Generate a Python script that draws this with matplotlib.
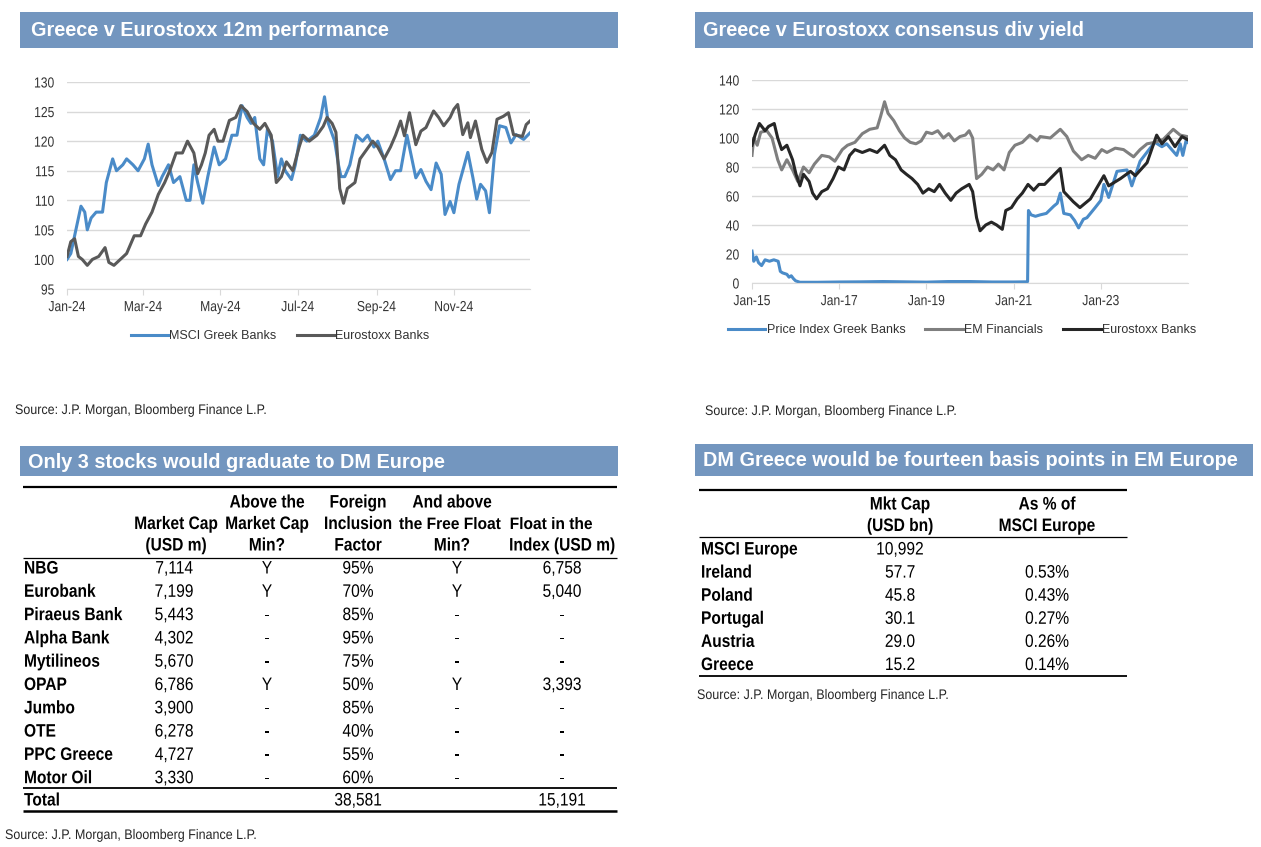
import numpy as np
import pandas as pd
import matplotlib
matplotlib.use('Agg')
import matplotlib.pyplot as plt
import matplotlib.dates as mdates
from matplotlib.patheffects import AbstractPathEffect
from matplotlib.transforms import Affine2D

plt.rcParams['font.family'] = ['Liberation Sans', 'DejaVu Sans']

# ---- chart 1: Greece v Eurostoxx 12m performance (day of 2024, index) ----
greek_day = [0, 3, 6, 8, 11, 14, 16, 19, 23, 28, 31, 36, 39, 44, 47, 52, 56, 61, 64, 67,
             72, 75, 80, 84, 89, 94, 97, 100, 103, 107, 111, 116, 120, 125, 130, 134, 138,
             142, 145, 148, 152, 155, 158, 162, 166, 169, 172, 177, 180, 184, 189, 195, 200,
             203, 206, 211, 214, 216, 219, 223, 228, 233, 237, 242, 245, 250, 255, 259, 263,
             268, 275, 279, 283, 287, 291, 295, 298, 302, 305, 309, 316, 320, 323, 326, 330,
             333, 337, 341, 346, 350, 354, 360, 365]
greek_val = [100, 101, 104, 106, 109, 108, 105, 107, 108, 108, 113, 117, 115, 116, 117, 116,
             115, 117, 119.5, 116, 112.5, 114, 116, 113, 114, 110, 110, 116, 113, 109.5, 114,
             119, 116, 117, 121, 121, 126, 124, 123, 124, 117, 116, 122, 120, 114, 117, 115,
             113.5, 116, 121, 120, 121, 124, 127.5, 123, 120, 116, 114, 114, 116, 121, 120, 121,
             119, 120, 117, 113.5, 115, 115, 121, 113.8, 115.2, 113.2, 111.8, 116.3, 114.4,
             107.6, 109.8, 107.9, 112.7, 118.1, 113.8, 110.2, 112.7, 111.6, 107.9, 117.8, 122.6,
             122.3, 119.7, 121.1, 120.3, 121.4]

euro_day = [0, 3, 6, 9, 12, 16, 20, 25, 30, 33, 37, 42, 47, 53, 58, 62, 67, 72, 77, 81, 86,
            91, 95, 100, 103, 106, 109, 112, 116, 119, 123, 128, 133, 137, 142, 147, 152, 156,
            161, 165, 169, 173, 178, 183, 186, 191, 197, 202, 205, 209, 212, 215, 218, 221, 227,
            231, 236, 241, 245, 250, 255, 259, 263, 266, 270, 275, 279, 283, 289, 293, 297, 302,
            305, 308, 312, 316, 318, 322, 327, 331, 335, 339, 344, 348, 352, 359, 362, 365]
euro_val = [100.5, 103, 103.5, 100.5, 100, 99, 100, 100.5, 102, 99.5, 99, 100, 101, 104, 104,
            106, 108, 111, 113, 115, 118, 118, 120, 118, 114.5, 116, 118, 121, 122, 120, 120,
            123.5, 124, 126, 125, 123, 122, 123, 121, 113, 114, 116.5, 115, 119, 121, 120, 121,
            122.5, 124, 123, 121.5, 112, 109.5, 112, 113, 117, 118.5, 120, 119, 117, 119, 121,
            123.4, 120.9, 124.8, 119.4, 121.7, 122.3, 125.1, 124, 122.6, 124, 125.4, 126.2,
            121.1, 123.1, 120.6, 123.4, 118.6, 116.4, 118.1, 123.7, 124.2, 124.8, 121.1, 120.8,
            122.8, 123.4]

# ---- chart 2: consensus div yield (fractional year, index) ----
gb_year = [2015.0, 2015.04, 2015.1, 2015.15, 2015.22, 2015.3, 2015.4, 2015.5, 2015.6, 2015.65,
           2015.7, 2015.8, 2015.85, 2015.9, 2015.95, 2016.0, 2016.1, 2016.5, 2017.0, 2017.5,
           2018.0, 2018.5, 2019.0, 2019.5, 2020.0, 2020.5, 2021.0, 2021.3, 2021.32, 2021.34,
           2021.4, 2021.5, 2021.61, 2021.75, 2021.92, 2022.0, 2022.07, 2022.15, 2022.3, 2022.4,
           2022.49, 2022.6, 2022.68, 2022.87, 2023.0, 2023.07, 2023.18, 2023.37, 2023.6,
           2023.71, 2023.9, 2024.13, 2024.24, 2024.4, 2024.51, 2024.74, 2024.82, 2024.88,
           2024.96, 2025.0]
gb_val = [22, 15, 18, 14, 12, 16, 15, 16, 15, 8, 7, 6, 4, 5, 3, 1.5, 0.5, 0.5, 0.7, 0.8, 1,
          0.8, 0.6, 1, 1, 0.7, 0.7, 0.8, 1, 50, 47, 46, 47, 48, 53, 55, 62, 48, 47, 43, 38, 44,
          45, 52, 57, 68, 59, 77, 78, 67, 84, 93, 97, 94, 96, 88, 96, 88, 99, 97]

emf_year = [2015.0, 2015.04, 2015.12, 2015.2, 2015.34, 2015.46, 2015.59, 2015.68, 2015.8,
            2015.93, 2016.05, 2016.18, 2016.31, 2016.43, 2016.6, 2016.77, 2016.9, 2017.07,
            2017.19, 2017.36, 2017.53, 2017.7, 2017.87, 2017.95, 2018.04, 2018.12, 2018.25,
            2018.38, 2018.5, 2018.63, 2018.76, 2018.88, 2019.0, 2019.13, 2019.26, 2019.39,
            2019.51, 2019.64, 2019.77, 2019.89, 2019.98, 2020.06, 2020.15, 2020.27, 2020.4,
            2020.53, 2020.65, 2020.78, 2020.9, 2021.03, 2021.2, 2021.37, 2021.54, 2021.61,
            2021.84, 2022.07, 2022.22, 2022.37, 2022.56, 2022.71, 2022.87, 2023.02, 2023.14,
            2023.33, 2023.52, 2023.75, 2023.9, 2024.06, 2024.24, 2024.43, 2024.66, 2024.82,
            2024.98]
emf_val = [88, 100, 95, 104, 105, 100, 85, 78, 85, 78, 70, 80, 76, 82, 88, 87, 84, 92, 95, 97,
           103, 106, 107, 115, 125, 117, 112, 105, 100, 97, 96, 98, 104, 103, 105, 100, 103, 98,
           101, 102, 105, 100, 72, 75, 80, 78, 82, 78, 90, 95, 97, 102, 98, 101, 100, 106, 101,
           91, 85, 88, 86, 92, 90, 93, 92, 87, 92, 96, 97, 99, 106, 102, 101]

esb_year = [2015.0, 2015.08, 2015.17, 2015.3, 2015.38, 2015.51, 2015.59, 2015.68, 2015.8,
            2015.93, 2016.01, 2016.1, 2016.18, 2016.31, 2016.39, 2016.48, 2016.6, 2016.73,
            2016.86, 2016.98, 2017.11, 2017.24, 2017.36, 2017.53, 2017.7, 2017.87, 2018.04,
            2018.16, 2018.29, 2018.42, 2018.54, 2018.67, 2018.8, 2018.92, 2019.05, 2019.18,
            2019.3, 2019.43, 2019.56, 2019.68, 2019.81, 2019.98, 2020.06, 2020.15, 2020.23,
            2020.36, 2020.49, 2020.61, 2020.74, 2020.82, 2020.95, 2021.08, 2021.2, 2021.33,
            2021.46, 2021.58, 2021.71, 2021.84, 2022.07, 2022.15, 2022.37, 2022.52, 2022.76,
            2023.07, 2023.18, 2023.45, 2023.68, 2023.79, 2024.06, 2024.28, 2024.4, 2024.55,
            2024.7, 2024.86, 2024.98]
esb_val = [95, 103, 110, 105, 108, 110, 100, 92, 95, 85, 75, 67, 75, 70, 62, 58, 63, 65, 72,
           80, 78, 88, 92, 90, 92, 90, 95, 88, 85, 78, 75, 72, 68, 62, 65, 63, 68, 62, 57, 62,
           65, 68, 63, 45, 36, 40, 42, 40, 37, 50, 52, 58, 62, 68, 64, 68, 68, 72, 79, 63, 56,
           52, 58, 74, 67, 72, 77, 74, 83, 102, 96, 101, 94, 101, 99]

# ---- table 1 ----
stocks = ['NBG', 'Eurobank', 'Piraeus Bank', 'Alpha Bank', 'Mytilineos', 'OPAP', 'Jumbo',
          'OTE', 'PPC Greece', 'Motor Oil']
mkt_cap = [7114, 7199, 5443, 4302, 5670, 6786, 3900, 6278, 4727, 3330]
above_mcap = ['Y', 'Y', '-', '-', '-', 'Y', '-', '-', '-', '-']
foreign_incl = [95, 70, 85, 95, 75, 50, 85, 40, 55, 60]
above_ff = ['Y', 'Y', '-', '-', '-', 'Y', '-', '-', '-', '-']
float_index = [6758, 5040, None, None, None, 3393, None, None, None, None]
total_incl = 38581
total_float = 15191

# ---- table 2 ----
countries = ['MSCI Europe', 'Ireland', 'Poland', 'Portugal', 'Austria', 'Greece']
cap_bn = ['10,992', '57.7', '45.8', '30.1', '29.0', '15.2']
pct_europe = ['', '0.53%', '0.43%', '0.27%', '0.26%', '0.14%']

W, H = 1261, 847
HDR = '#7396bf'
BLUE = '#4a8bc8'
SRC = 'Source: J.P. Morgan, Bloomberg Finance L.P.'


class Narrow(AbstractPathEffect):
    """squeeze glyphs horizontally, to look like an Arial Narrow face"""
    def __init__(self, sx=0.85, align='left'):
        super().__init__()
        self.sx = sx
        self.k = {'left': 0.0, 'center': 0.5, 'right': 1.0}[align]

    def draw_path(self, renderer, gc, tpath, affine, rgbFace=None):
        v = tpath.vertices
        w = v[:, 0].max() if len(v) else 0.0
        pre = Affine2D().scale(self.sx, 1).translate((1 - self.sx) * w * self.k, 0)
        renderer.draw_path(gc, tpath, pre + affine, rgbFace)


fig = plt.figure(figsize=(W / 100, H / 100), dpi=100)
bg = fig.add_axes([0, 0, 1, 1])
bg.set_xlim(0, W)
bg.set_ylim(H, 0)
bg.axis('off')

TF = 13
SQ = 0.86


def txt(x, y, s, ha='center', bold=False, size=TF, sx=SQ, **kw):
    bg.text(x, y, s, fontsize=size, fontweight='bold' if bold else 'normal', ha=ha,
            va='center', path_effects=[Narrow(sx, ha)], **kw)


def header(x0, x1, y0, y1, title, tx, size):
    bg.add_patch(plt.Rectangle((x0, y0), x1 - x0, y1 - y0, color=HDR, lw=0))
    bg.text(tx, (y0 + y1) / 2 + 1, title, color='white', fontsize=size, fontweight='bold',
            va='center', ha='left')


def hline(x0, x1, y, lw):
    bg.plot([x0, x1], [y, y], color='black', lw=lw, solid_capstyle='butt')


def chart_axes(l, r, t, b):
    ax = fig.add_axes([l / W, 1 - b / H, (r - l) / W, (b - t) / H])
    for s in ['left', 'right', 'top']:
        ax.spines[s].set_visible(False)
    ax.spines['bottom'].set_color('#d9d9d9')
    ax.grid(axis='y', color='#d9d9d9', lw=1)
    ax.set_axisbelow(True)
    ax.tick_params(axis='y', length=0, pad=9, labelsize=10.5, labelcolor='#333333')
    ax.tick_params(axis='x', length=4, color='#d9d9d9', pad=4, labelsize=10.5,
                   labelcolor='#333333')
    return ax


def narrow_ticks(ax):
    for t in ax.xaxis.get_major_ticks():
        t.label1.set_path_effects([Narrow(0.83, 'center')])
    for t in ax.yaxis.get_major_ticks():
        t.label1.set_path_effects([Narrow(0.83, 'right')])


# ---- panel 1 ----
header(20, 618, 12, 48, 'Greece v Eurostoxx 12m performance', 31, 14.3)
ax1 = chart_axes(67, 530, 82, 289)
t0 = pd.Timestamp('2024-01-01')
ax1.plot(t0 + pd.to_timedelta(greek_day, 'D'), greek_val, color=BLUE, lw=2.2,
         label='MSCI Greek Banks')
ax1.plot(t0 + pd.to_timedelta(euro_day, 'D'), euro_val, color='#595959', lw=2.2,
         label='Eurostoxx Banks')
ax1.set_ylim(95, 130)
ax1.set_yticks(np.arange(95, 131, 5))
ax1.set_xlim(t0, pd.Timestamp('2024-12-31'))
ax1.set_xticks(pd.date_range('2024-01-01', '2024-11-01', freq='2MS'))
ax1.xaxis.set_major_formatter(mdates.DateFormatter('%b-%y'))
narrow_ticks(ax1)
ax1.legend(loc='center', bbox_to_anchor=(280 / W, 1 - 336 / H), bbox_transform=fig.transFigure,
           ncol=2, frameon=False, fontsize=9, handlelength=3.0, handletextpad=0.1,
           columnspacing=1.6, labelcolor='#333333')
txt(15, 410, SRC, ha='left', size=10, sx=0.9, color='#262626')

# ---- panel 2 ----
header(695, 1253, 12, 48, 'Greece v Eurostoxx consensus div yield', 703, 14.3)
ax2 = chart_axes(752, 1188, 80, 283)


def yr(v):
    return pd.Timestamp('2015-01-01') + pd.to_timedelta((np.array(v) - 2015) * 365.25, 'D')


ax2.plot(yr(gb_year), gb_val, color=BLUE, lw=2.2, label='Price Index Greek Banks')
ax2.plot(yr(emf_year), emf_val, color='#7f7f7f', lw=2.2, label='EM Financials')
ax2.plot(yr(esb_year), esb_val, color='#262626', lw=2.2, label='Eurostoxx Banks')
ax2.set_ylim(0, 140)
ax2.set_yticks(np.arange(0, 141, 20))
ax2.set_xlim(pd.Timestamp('2015-01-01'), pd.Timestamp('2024-12-31'))
ax2.set_xticks(pd.date_range('2015-01-01', '2023-01-01', freq='2YS'))
ax2.xaxis.set_major_formatter(mdates.DateFormatter('%b-%y'))
narrow_ticks(ax2)
ax2.legend(loc='center', bbox_to_anchor=(962 / W, 1 - 330 / H), bbox_transform=fig.transFigure,
           ncol=3, frameon=False, fontsize=9, handlelength=3.0, handletextpad=0.1,
           columnspacing=1.6, labelcolor='#333333')
txt(705, 411, SRC, ha='left', size=10, sx=0.9, color='#262626')

# ---- panel 3: table ----
header(20, 618, 446, 476, 'Only 3 stocks would graduate to DM Europe', 28, 14.3)
hline(23, 617, 487, 1.6)
heads = [(176, ['', 'Market Cap', '(USD m)']),
         (267, ['Above the', 'Market Cap', 'Min?']),
         (358, ['Foreign', 'Inclusion', 'Factor']),
         (452, ['And above', '', 'Min?']),
         (562, ['', '', 'Index (USD m)'])]
for x, lines in heads:
    for j, s in enumerate(lines):
        if s:
            txt(x, 503 + 21.5 * j, s, bold=True)
# the two header pieces that nearly touch in the original
txt(450, 524.5, 'the Free Float', bold=True, size=11.9, sx=0.94)
txt(551, 524.5, 'Float in the', bold=True, size=11.9, sx=0.94)
hline(23, 617, 558, 0.9)
for i, name in enumerate(stocks):
    y = 569 + 23.3 * i
    txt(24, y, name, ha='left', bold=True)
    txt(174, y, f'{mkt_cap[i]:,}')
    txt(267, y, above_mcap[i])
    txt(358, y, f'{foreign_incl[i]}%')
    txt(457, y, above_ff[i])
    txt(562, y, '-' if float_index[i] is None else f'{float_index[i]:,}')
hline(23, 617, 788, 1.3)
txt(24, 801, 'Total', ha='left', bold=True)
txt(358, 801, f'{total_incl:,}')
txt(562, 801, f'{total_float:,}')
hline(23, 617, 811, 1.8)
txt(5, 835, SRC, ha='left', size=10, sx=0.9, color='#262626')

# ---- panel 4: table ----
header(695, 1253, 444, 476, 'DM Greece would be fourteen basis points in EM Europe', 703, 14.3)
hline(699, 1127, 490, 1.6)
for j, s in enumerate(['Mkt Cap', '(USD bn)']):
    txt(900, 505 + 21.5 * j, s, bold=True)
for j, s in enumerate(['As % of', 'MSCI Europe']):
    txt(1047, 505 + 21.5 * j, s, bold=True)
hline(699, 1127, 537, 0.9)
for i, c in enumerate(countries):
    y = 550 + 23.1 * i
    txt(701, y, c, ha='left', bold=True)
    txt(900, y, cap_bn[i])
    txt(1047, y, pct_europe[i])
hline(699, 1127, 676, 1.3)
txt(697, 695, SRC, ha='left', size=10, sx=0.9, color='#262626')

fig.savefig('out.png', dpi=100, facecolor='white')
